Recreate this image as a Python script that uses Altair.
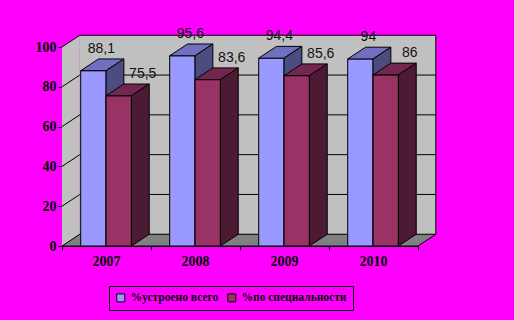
import altair as alt
import pandas as pd

years = ["2007", "2008", "2009", "2010"]
series = ["%устроено всего", "%по специальности"]
total = [88.1, 95.6, 94.4, 94]
spec = [75.5, 83.6, 85.6, 86]
grid_values = [0, 20, 40, 60, 80, 100]

front_colors = ["#9999FF", "#993366"]
top_colors = ["#7070BF", "#732650"]
side_colors = ["#4C4C80", "#4D1A33"]
label_dx = [8, 24]

DX, DY = 0.2, 5.9      # depth of the oblique projection (data units)
OFF, W = 0.21, 0.285   # bar offset in band and bar width
NCAT = len(years)

xs = alt.Scale(domain=[0, NCAT], nice=False, zero=False)
ys = alt.Scale(domain=[0, 100], nice=False, zero=False)
xaxis = alt.Axis(values=list(range(NCAT + 1)), labels=False, tickSize=4, domainColor="black",
                 tickColor="black", grid=False, title=None)
yaxis = alt.Axis(values=grid_values, tickSize=4, labelFont="Liberation Serif", labelFontWeight="bold",
                 labelFontSize=14, labelColor="black", labelPadding=2, domainColor="black",
                 tickColor="black", grid=False, title=None, format="d")


def X(f):
    return alt.X(f, type="quantitative", scale=xs, axis=xaxis)


def Y(f):
    return alt.Y(f, type="quantitative", scale=ys, axis=yaxis)


# walls and floor
back_wall = pd.DataFrame([dict(x=DX, x2=NCAT + DX, y=DY, y2=100 + DY)])
left_wall = pd.DataFrame([dict(x=t * DX, y=t * DY, y2=100 + t * DY, id="w") for t in (0, 1)])
floor = pd.DataFrame([dict(y=t * DY, x=t * DX, x2=NCAT + t * DX, id="f") for t in (0, 1)])
grid_back = pd.DataFrame([dict(x=DX, x2=NCAT + DX, y=v + DY) for v in grid_values[1:]])
grid_left = pd.DataFrame([dict(x=0, x2=DX, y=v, y2=v + DY) for v in grid_values[1:]])
right_edge = pd.DataFrame([dict(x=NCAT + DX, y=DY, y2=100 + DY)])

layers = [
    alt.Chart(back_wall).mark_rect(color="#C0C0C0").encode(x=X("x"), x2="x2", y=Y("y"), y2="y2"),
    alt.Chart(left_wall).mark_area(orient="vertical", color="#C0C0C0").encode(
        x=X("x"), y=Y("y"), y2="y2", detail="id:N"),
    alt.Chart(floor).mark_area(orient="horizontal", color="#808080", stroke="black", strokeWidth=1).encode(
        y=Y("y"), x=X("x"), x2="x2", detail="id:N"),
    alt.Chart(grid_back).mark_rule(color="black", strokeWidth=1).encode(x=X("x"), x2="x2", y=Y("y")),
    alt.Chart(grid_left).mark_rule(color="black", strokeWidth=1).encode(x=X("x"), x2="x2", y=Y("y"), y2="y2"),
    alt.Chart(right_edge).mark_rule(color="black", strokeWidth=1).encode(x=X("x"), y=Y("y"), y2="y2"),
]

color_scale = alt.Scale(domain=series, range=front_colors)
legend = alt.Legend(orient="none", legendX=47, legendY=239, direction="horizontal", title=None,
                    strokeColor="black", padding=6, symbolType="square", symbolSize=64,
                    symbolStrokeColor="black", symbolStrokeWidth=1, symbolOpacity=1,
                    labelFont="Liberation Serif", labelFontSize=11.5, labelFontWeight="bold",
                    labelColor="black", columnPadding=6, symbolLimit=0)

label_layers = []
for s_i, (name, vals) in enumerate(zip(series, [total, spec])):
    front, top, side = [], [], []
    for i, (yr, v) in enumerate(zip(years, vals)):
        x0 = i + OFF + s_i * W
        x1 = x0 + W
        bid = f"{s_i}-{i}"
        front.append(dict(series=name, year=yr, x0=x0, x1=x1, h=v, base=0,
                          xc=(x0 + x1) / 2, ytop=v + DY, label=f"{v:g}".replace(".", ",")))
        for t in (0, 1):
            top.append(dict(id=bid, y=v + t * DY, xa=x0 + t * DX, xb=x1 + t * DX))
            side.append(dict(id=bid, x=x1 + t * DX, ya=t * DY, yb=v + t * DY))
    front = pd.DataFrame(front)
    layers.append(alt.Chart(front).mark_rect(stroke="black", strokeWidth=1).encode(
        x=X("x0"), x2="x1", y=Y("h"), y2="base",
        color=alt.Color("series:N", scale=color_scale, legend=legend, sort=series)))
    layers.append(alt.Chart(pd.DataFrame(top)).mark_area(
        orient="horizontal", color=top_colors[s_i], stroke="black", strokeWidth=1).encode(
        y=Y("y"), x=X("xa"), x2="xb", detail="id:N"))
    layers.append(alt.Chart(pd.DataFrame(side)).mark_area(
        orient="vertical", color=side_colors[s_i], stroke="black", strokeWidth=1).encode(
        x=X("x"), y=Y("yb"), y2="ya", detail="id:N"))
    label_layers.append(alt.Chart(front).mark_text(
        font="Liberation Sans", fontSize=14, color="#111111", baseline="bottom",
        dx=label_dx[s_i], dy=-3).encode(x=X("xc"), y=Y("ytop"), text="label:N"))

year_df = pd.DataFrame(dict(year=years, xc=[i + 0.5 for i in range(NCAT)], y0=[0] * NCAT))
year_labels = alt.Chart(year_df).mark_text(
    font="Liberation Serif", fontWeight="bold", fontSize=14, color="black",
    baseline="middle", dy=16).encode(x=X("xc"), y=Y("y0"), text="year:N")

chart = alt.layer(*layers, *label_layers, year_labels).properties(
    width=356, height=199,
    padding={"left": 62, "top": 47, "right": 96, "bottom": 74},
    autosize="none",
    background="#FF00FF",
).configure_view(stroke=None)

chart.save("out.html", embed_options={"renderer": "svg", "actions": False})
